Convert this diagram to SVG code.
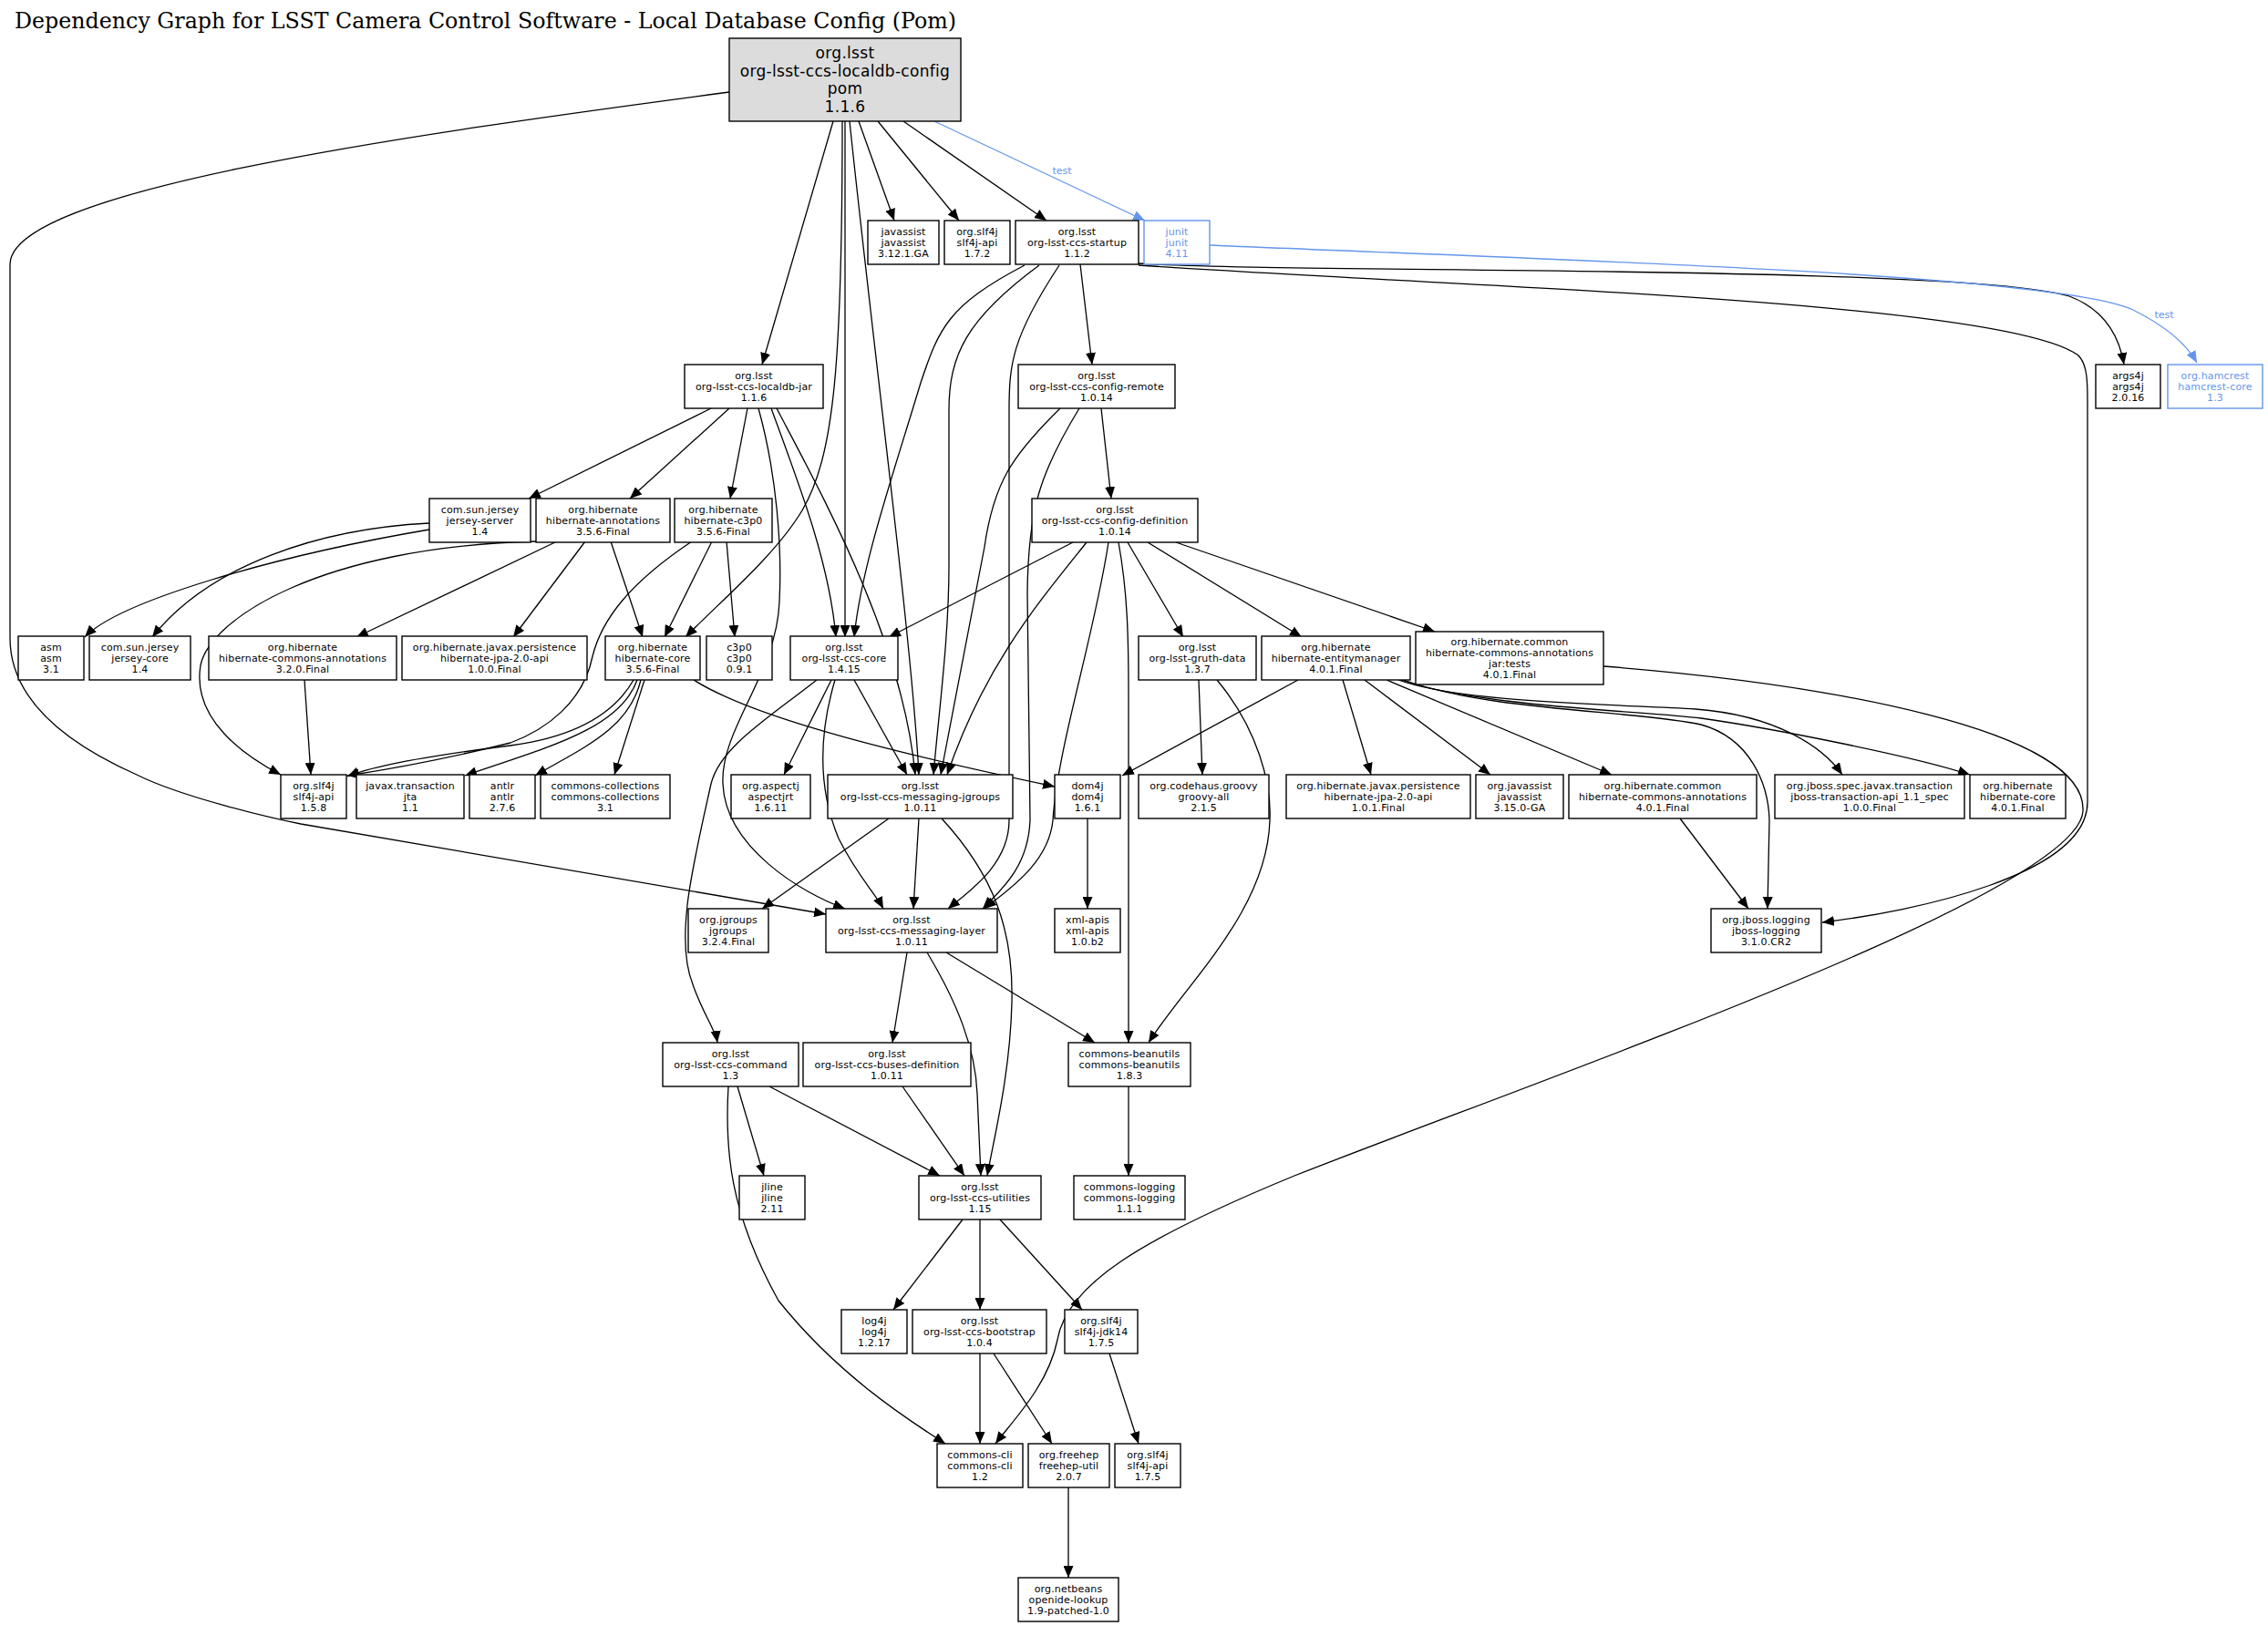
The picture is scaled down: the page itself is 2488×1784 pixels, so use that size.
<svg xmlns="http://www.w3.org/2000/svg" width="2488" height="1784" viewBox="0 0 2488 1784">
<style>
.n rect{fill:#fff;stroke:#000;stroke-width:1.4}
.n text{font-family:"DejaVu Sans",sans-serif;font-size:11px;letter-spacing:0.15px;text-anchor:middle;fill:#000}
.r rect{fill:#dcdcdc}
.r text{font-size:17px;letter-spacing:0.3px}
.b rect{stroke:#6495ed}
.b text{fill:#6495ed}
.e path{fill:none;stroke:#000;stroke-width:1.3;marker-end:url(#ah)}
.e path.t{stroke:#6495ed;marker-end:url(#ab)}
.lbl{font-family:"DejaVu Sans",sans-serif;font-size:11px;fill:#6495ed;text-anchor:middle}
.title{font-family:"DejaVu Serif","Liberation Serif",serif;font-size:25px;fill:#000}
</style>
<defs>
<marker id="ah" viewBox="0 0 13 11" refX="13" refY="5.5" markerWidth="13" markerHeight="11" markerUnits="userSpaceOnUse" orient="auto"><path d="M0,0 L13,5.5 L0,11 z" fill="#000"/></marker>
<marker id="ab" viewBox="0 0 13 11" refX="13" refY="5.5" markerWidth="13" markerHeight="11" markerUnits="userSpaceOnUse" orient="auto"><path d="M0,0 L13,5.5 L0,11 z" fill="#6495ed"/></marker>
</defs>
<rect width="2488" height="1784" fill="#fff"/>
<text class="title" x="16" y="31" textLength="1033" lengthAdjust="spacingAndGlyphs">Dependency Graph for LSST Camera Control Software - Local Database Config (Pom)</text>

<g id="edges" class="e">
<path d="M800,101 C430,150 11,210 11,290 L11,700 C11,760 60,810 150,850 C200,875 300,898 330,904 L906,1003"/>
<path d="M914,133 L836,400"/>
<path d="M927,133 L927,699"/>
<path d="M924,133 C924,400 915,500 880,560 C850,610 790,660 752,699"/>
<path d="M932,133 C960,400 1000,700 1008,850"/>
<path d="M942,133 L981,242"/>
<path d="M963,133 L1052,242"/>
<path d="M991,133 L1148,242"/>
<path class="t" d="M1025,133 L1256,242"/>
<path d="M1185,290 L1198,400"/>
<path d="M1124,291 C1040,335 1030,360 1010,420 C980,520 945,620 937,699"/>
<path d="M1140,291 C1060,350 1041,390 1041,450 L1041,620 C1041,700 1030,780 1024,850"/>
<path d="M1162,291 C1110,370 1107,400 1107,450 L1107,900 C1107,950 1060,980 1040,997"/>
<path d="M1249,289 C1400,300 2150,290 2270,325 C2310,340 2325,370 2330,400"/>
<path d="M1249,291 C1600,315 2200,330 2280,390 C2290,400 2290,420 2290,440 L2290,880 C2290,960 2100,1000 1999,1012"/>
<path class="t" d="M1327,269 C1700,285 2250,300 2340,340 C2380,360 2400,380 2410,398"/>
<path d="M780,448 L580,547"/>
<path d="M800,448 L691,547"/>
<path d="M820,448 L801,547"/>
<path d="M846,448 C880,540 910,620 917,699"/>
<path d="M852,448 C900,540 990,700 1004,850"/>
<path d="M832,448 C852,520 858,600 855,660 C852,740 790,800 793,860 C796,930 880,980 927,997"/>
<path d="M1208,448 L1219,547"/>
<path d="M1163,448 C1110,500 1090,530 1080,600 C1060,700 1045,780 1032,850"/>
<path d="M1184,448 C1140,520 1128,560 1127,650 L1130,900 C1128,950 1100,975 1078,997"/>
<path d="M1177,595 L975,699"/>
<path d="M1192,595 C1140,660 1080,730 1039,850"/>
<path d="M1216,595 C1200,700 1160,820 1155,900 C1150,950 1100,980 1080,997"/>
<path d="M1227,595 C1237,650 1238,700 1238,760 L1238,1144"/>
<path d="M1237,595 L1298,699"/>
<path d="M1259,595 L1428,699"/>
<path d="M1290,595 L1574,693"/>
<path d="M1315,746 L1319,850"/>
<path d="M1335,746 C1380,800 1395,860 1393,900 C1390,1000 1300,1080 1260,1144"/>
<path d="M1424,746 L1231,851"/>
<path d="M1473,746 L1504,850"/>
<path d="M1497,746 L1635,850"/>
<path d="M1521,746 L1768,850"/>
<path d="M1534,746 C1600,770 1750,772 1860,778 C1950,785 2000,820 2021,850"/>
<path d="M1537,746 C1620,775 1800,780 1866,788 C1950,800 2100,830 2161,850"/>
<path d="M1540,746 C1630,780 1800,780 1866,795 C1920,810 1940,860 1941,900 L1939,997"/>
<path d="M1843,898 L1918,997"/>
<path d="M1759,731 C2000,750 2290,800 2285,890 C2280,980 1700,1180 1420,1290 C1250,1360 1170,1410 1160,1470 C1150,1520 1110,1560 1092,1584"/>
<path d="M588,594 C350,600 230,680 220,730 C210,790 270,830 308,850"/>
<path d="M611,594 L391,699"/>
<path d="M642,594 L563,699"/>
<path d="M670,594 L705,699"/>
<path d="M471,581 C300,610 130,660 93,699"/>
<path d="M471,574 C350,580 230,620 167,699"/>
<path d="M781,594 L729,699"/>
<path d="M797,594 L806,699"/>
<path d="M759,594 C690,640 660,680 650,720 C640,770 600,800 560,815 C480,835 420,845 381,851"/>
<path d="M695,746 C670,790 620,810 560,818 C480,828 410,840 381,852"/>
<path d="M699,746 C680,800 600,820 510,851"/>
<path d="M703,746 C690,800 640,820 587,851"/>
<path d="M707,746 L674,850"/>
<path d="M761,746 C830,790 1000,830 1157,863"/>
<path d="M912,746 L860,850"/>
<path d="M937,746 L995,850"/>
<path d="M916,746 C900,800 895,860 920,920 C940,960 960,980 969,997"/>
<path d="M896,746 C840,790 790,820 780,860 C760,950 740,1030 760,1080 C770,1110 785,1130 787,1144"/>
<path d="M975,898 L836,997"/>
<path d="M1008,898 L1002,997"/>
<path d="M1033,898 C1090,960 1112,1020 1110,1100 C1108,1180 1090,1250 1083,1290"/>
<path d="M995,1045 L979,1144"/>
<path d="M1017,1045 C1050,1100 1070,1150 1072,1200 C1074,1240 1075,1270 1076,1290"/>
<path d="M1038,1045 L1201,1144"/>
<path d="M809,1192 L838,1290"/>
<path d="M844,1192 L1031,1290"/>
<path d="M799,1192 C795,1260 800,1330 854,1427 C920,1510 1000,1560 1037,1584"/>
<path d="M990,1192 L1058,1290"/>
<path d="M1238,1192 L1238,1290"/>
<path d="M1056,1338 L980,1437"/>
<path d="M1075,1338 L1075,1437"/>
<path d="M1097,1338 L1187,1437"/>
<path d="M1075,1485 L1075,1584"/>
<path d="M1090,1485 L1154,1584"/>
<path d="M1217,1485 L1249,1584"/>
<path d="M1172,1632 L1172,1731"/>
<path d="M1193,898 L1193,997"/>
<path d="M334,746 L341,850"/>
</g>
<text class="lbl" x="1165" y="191">test</text>
<text class="lbl" x="2374" y="349">test</text>

<g id="root" class="n r"><rect x="800" y="42" width="254" height="91"/><text><tspan x="927" y="64">org.lsst</tspan><tspan x="927" y="84">org-lsst-ccs-localdb-config</tspan><tspan x="927" y="103">pom</tspan><tspan x="927" y="123">1.1.6</tspan></text></g>

<g id="javassist" class="n"><rect x="952" y="242" width="78" height="48"/><text><tspan x="991" y="258">javassist</tspan><tspan x="991" y="270">javassist</tspan><tspan x="991" y="282">3.12.1.GA</tspan></text></g>
<g id="slf4j-api-1.7.2" class="n"><rect x="1036" y="242" width="72" height="48"/><text><tspan x="1072" y="258">org.slf4j</tspan><tspan x="1072" y="270">slf4j-api</tspan><tspan x="1072" y="282">1.7.2</tspan></text></g>
<g id="startup" class="n"><rect x="1114" y="242" width="135" height="48"/><text><tspan x="1181.5" y="258">org.lsst</tspan><tspan x="1181.5" y="270">org-lsst-ccs-startup</tspan><tspan x="1181.5" y="282">1.1.2</tspan></text></g>
<g id="junit" class="n b"><rect x="1255" y="242" width="72" height="48"/><text><tspan x="1291" y="258">junit</tspan><tspan x="1291" y="270">junit</tspan><tspan x="1291" y="282">4.11</tspan></text></g>

<g id="localdb-jar" class="n"><rect x="751" y="400" width="152" height="48"/><text><tspan x="827" y="416">org.lsst</tspan><tspan x="827" y="428">org-lsst-ccs-localdb-jar</tspan><tspan x="827" y="440">1.1.6</tspan></text></g>
<g id="config-remote" class="n"><rect x="1117" y="400" width="172" height="48"/><text><tspan x="1203" y="416">org.lsst</tspan><tspan x="1203" y="428">org-lsst-ccs-config-remote</tspan><tspan x="1203" y="440">1.0.14</tspan></text></g>
<g id="args4j" class="n"><rect x="2299" y="400" width="71" height="48"/><text><tspan x="2334.5" y="416">args4j</tspan><tspan x="2334.5" y="428">args4j</tspan><tspan x="2334.5" y="440">2.0.16</tspan></text></g>
<g id="hamcrest" class="n b"><rect x="2378" y="400" width="104" height="48"/><text><tspan x="2430" y="416">org.hamcrest</tspan><tspan x="2430" y="428">hamcrest-core</tspan><tspan x="2430" y="440">1.3</tspan></text></g>

<g id="jersey-server" class="n"><rect x="471" y="547" width="111" height="48"/><text><tspan x="526.5" y="563">com.sun.jersey</tspan><tspan x="526.5" y="575">jersey-server</tspan><tspan x="526.5" y="587">1.4</tspan></text></g>
<g id="hibernate-annotations" class="n"><rect x="588" y="547" width="147" height="48"/><text><tspan x="661.5" y="563">org.hibernate</tspan><tspan x="661.5" y="575">hibernate-annotations</tspan><tspan x="661.5" y="587">3.5.6-Final</tspan></text></g>
<g id="hibernate-c3p0" class="n"><rect x="740" y="547" width="107" height="48"/><text><tspan x="793.5" y="563">org.hibernate</tspan><tspan x="793.5" y="575">hibernate-c3p0</tspan><tspan x="793.5" y="587">3.5.6-Final</tspan></text></g>
<g id="config-definition" class="n"><rect x="1132" y="547" width="182" height="48"/><text><tspan x="1223" y="563">org.lsst</tspan><tspan x="1223" y="575">org-lsst-ccs-config-definition</tspan><tspan x="1223" y="587">1.0.14</tspan></text></g>

<g id="asm" class="n"><rect x="20" y="698" width="72" height="48"/><text><tspan x="56" y="714">asm</tspan><tspan x="56" y="726">asm</tspan><tspan x="56" y="738">3.1</tspan></text></g>
<g id="jersey-core" class="n"><rect x="98" y="698" width="111" height="48"/><text><tspan x="153.5" y="714">com.sun.jersey</tspan><tspan x="153.5" y="726">jersey-core</tspan><tspan x="153.5" y="738">1.4</tspan></text></g>
<g id="hca-3.2.0" class="n"><rect x="229" y="698" width="206" height="48"/><text><tspan x="332" y="714">org.hibernate</tspan><tspan x="332" y="726">hibernate-commons-annotations</tspan><tspan x="332" y="738">3.2.0.Final</tspan></text></g>
<g id="jpa-1.0.0" class="n"><rect x="441" y="698" width="203" height="48"/><text><tspan x="542.5" y="714">org.hibernate.javax.persistence</tspan><tspan x="542.5" y="726">hibernate-jpa-2.0-api</tspan><tspan x="542.5" y="738">1.0.0.Final</tspan></text></g>
<g id="hibernate-core-3.5.6" class="n"><rect x="664" y="698" width="104" height="48"/><text><tspan x="716" y="714">org.hibernate</tspan><tspan x="716" y="726">hibernate-core</tspan><tspan x="716" y="738">3.5.6-Final</tspan></text></g>
<g id="c3p0" class="n"><rect x="775" y="698" width="72" height="48"/><text><tspan x="811" y="714">c3p0</tspan><tspan x="811" y="726">c3p0</tspan><tspan x="811" y="738">0.9.1</tspan></text></g>
<g id="ccs-core" class="n"><rect x="867" y="698" width="118" height="48"/><text><tspan x="926" y="714">org.lsst</tspan><tspan x="926" y="726">org-lsst-ccs-core</tspan><tspan x="926" y="738">1.4.15</tspan></text></g>
<g id="gruth-data" class="n"><rect x="1249" y="698" width="129" height="48"/><text><tspan x="1313.5" y="714">org.lsst</tspan><tspan x="1313.5" y="726">org-lsst-gruth-data</tspan><tspan x="1313.5" y="738">1.3.7</tspan></text></g>
<g id="entitymanager" class="n"><rect x="1384" y="698" width="163" height="48"/><text><tspan x="1465.5" y="714">org.hibernate</tspan><tspan x="1465.5" y="726">hibernate-entitymanager</tspan><tspan x="1465.5" y="738">4.0.1.Final</tspan></text></g>
<g id="hca-jar-tests" class="n"><rect x="1553" y="693" width="206" height="58"/><text><tspan x="1656" y="708">org.hibernate.common</tspan><tspan x="1656" y="720">hibernate-commons-annotations</tspan><tspan x="1656" y="732">jar:tests</tspan><tspan x="1656" y="744">4.0.1.Final</tspan></text></g>

<g id="slf4j-api-1.5.8" class="n"><rect x="308" y="850" width="72" height="48"/><text><tspan x="344" y="866">org.slf4j</tspan><tspan x="344" y="878">slf4j-api</tspan><tspan x="344" y="890">1.5.8</tspan></text></g>
<g id="jta" class="n"><rect x="391" y="850" width="118" height="48"/><text><tspan x="450" y="866">javax.transaction</tspan><tspan x="450" y="878">jta</tspan><tspan x="450" y="890">1.1</tspan></text></g>
<g id="antlr" class="n"><rect x="515" y="850" width="72" height="48"/><text><tspan x="551" y="866">antlr</tspan><tspan x="551" y="878">antlr</tspan><tspan x="551" y="890">2.7.6</tspan></text></g>
<g id="commons-collections" class="n"><rect x="593" y="850" width="142" height="48"/><text><tspan x="664" y="866">commons-collections</tspan><tspan x="664" y="878">commons-collections</tspan><tspan x="664" y="890">3.1</tspan></text></g>
<g id="aspectjrt" class="n"><rect x="802" y="850" width="87" height="48"/><text><tspan x="845.5" y="866">org.aspectj</tspan><tspan x="845.5" y="878">aspectjrt</tspan><tspan x="845.5" y="890">1.6.11</tspan></text></g>
<g id="messaging-jgroups" class="n"><rect x="908" y="850" width="203" height="48"/><text><tspan x="1009.5" y="866">org.lsst</tspan><tspan x="1009.5" y="878">org-lsst-ccs-messaging-jgroups</tspan><tspan x="1009.5" y="890">1.0.11</tspan></text></g>
<g id="dom4j" class="n"><rect x="1157" y="850" width="72" height="48"/><text><tspan x="1193" y="866">dom4j</tspan><tspan x="1193" y="878">dom4j</tspan><tspan x="1193" y="890">1.6.1</tspan></text></g>
<g id="groovy-all" class="n"><rect x="1249" y="850" width="143" height="48"/><text><tspan x="1320.5" y="866">org.codehaus.groovy</tspan><tspan x="1320.5" y="878">groovy-all</tspan><tspan x="1320.5" y="890">2.1.5</tspan></text></g>
<g id="jpa-1.0.1" class="n"><rect x="1411" y="850" width="202" height="48"/><text><tspan x="1512" y="866">org.hibernate.javax.persistence</tspan><tspan x="1512" y="878">hibernate-jpa-2.0-api</tspan><tspan x="1512" y="890">1.0.1.Final</tspan></text></g>
<g id="org-javassist" class="n"><rect x="1619" y="850" width="96" height="48"/><text><tspan x="1667" y="866">org.javassist</tspan><tspan x="1667" y="878">javassist</tspan><tspan x="1667" y="890">3.15.0-GA</tspan></text></g>
<g id="hca-4.0.1" class="n"><rect x="1721" y="850" width="206" height="48"/><text><tspan x="1824" y="866">org.hibernate.common</tspan><tspan x="1824" y="878">hibernate-commons-annotations</tspan><tspan x="1824" y="890">4.0.1.Final</tspan></text></g>
<g id="jboss-transaction" class="n"><rect x="1947" y="850" width="208" height="48"/><text><tspan x="2051" y="866">org.jboss.spec.javax.transaction</tspan><tspan x="2051" y="878">jboss-transaction-api_1.1_spec</tspan><tspan x="2051" y="890">1.0.0.Final</tspan></text></g>
<g id="hibernate-core-4.0.1" class="n"><rect x="2161" y="850" width="105" height="48"/><text><tspan x="2213.5" y="866">org.hibernate</tspan><tspan x="2213.5" y="878">hibernate-core</tspan><tspan x="2213.5" y="890">4.0.1.Final</tspan></text></g>

<g id="jgroups" class="n"><rect x="755" y="997" width="88" height="48"/><text><tspan x="799" y="1013">org.jgroups</tspan><tspan x="799" y="1025">jgroups</tspan><tspan x="799" y="1037">3.2.4.Final</tspan></text></g>
<g id="messaging-layer" class="n"><rect x="906" y="997" width="188" height="48"/><text><tspan x="1000" y="1013">org.lsst</tspan><tspan x="1000" y="1025">org-lsst-ccs-messaging-layer</tspan><tspan x="1000" y="1037">1.0.11</tspan></text></g>
<g id="xml-apis" class="n"><rect x="1157" y="997" width="72" height="48"/><text><tspan x="1193" y="1013">xml-apis</tspan><tspan x="1193" y="1025">xml-apis</tspan><tspan x="1193" y="1037">1.0.b2</tspan></text></g>
<g id="jboss-logging" class="n"><rect x="1877" y="997" width="121" height="48"/><text><tspan x="1937.5" y="1013">org.jboss.logging</tspan><tspan x="1937.5" y="1025">jboss-logging</tspan><tspan x="1937.5" y="1037">3.1.0.CR2</tspan></text></g>

<g id="ccs-command" class="n"><rect x="727" y="1144" width="149" height="48"/><text><tspan x="801.5" y="1160">org.lsst</tspan><tspan x="801.5" y="1172">org-lsst-ccs-command</tspan><tspan x="801.5" y="1184">1.3</tspan></text></g>
<g id="buses-definition" class="n"><rect x="881" y="1144" width="184" height="48"/><text><tspan x="973" y="1160">org.lsst</tspan><tspan x="973" y="1172">org-lsst-ccs-buses-definition</tspan><tspan x="973" y="1184">1.0.11</tspan></text></g>
<g id="commons-beanutils" class="n"><rect x="1172" y="1144" width="134" height="48"/><text><tspan x="1239" y="1160">commons-beanutils</tspan><tspan x="1239" y="1172">commons-beanutils</tspan><tspan x="1239" y="1184">1.8.3</tspan></text></g>

<g id="jline" class="n"><rect x="811" y="1290" width="72" height="48"/><text><tspan x="847" y="1306">jline</tspan><tspan x="847" y="1318">jline</tspan><tspan x="847" y="1330">2.11</tspan></text></g>
<g id="utilities" class="n"><rect x="1008" y="1290" width="134" height="48"/><text><tspan x="1075" y="1306">org.lsst</tspan><tspan x="1075" y="1318">org-lsst-ccs-utilities</tspan><tspan x="1075" y="1330">1.15</tspan></text></g>
<g id="commons-logging" class="n"><rect x="1178" y="1290" width="122" height="48"/><text><tspan x="1239" y="1306">commons-logging</tspan><tspan x="1239" y="1318">commons-logging</tspan><tspan x="1239" y="1330">1.1.1</tspan></text></g>

<g id="log4j" class="n"><rect x="923" y="1437" width="72" height="48"/><text><tspan x="959" y="1453">log4j</tspan><tspan x="959" y="1465">log4j</tspan><tspan x="959" y="1477">1.2.17</tspan></text></g>
<g id="bootstrap" class="n"><rect x="1001" y="1437" width="147" height="48"/><text><tspan x="1074.5" y="1453">org.lsst</tspan><tspan x="1074.5" y="1465">org-lsst-ccs-bootstrap</tspan><tspan x="1074.5" y="1477">1.0.4</tspan></text></g>
<g id="slf4j-jdk14" class="n"><rect x="1168" y="1437" width="80" height="48"/><text><tspan x="1208" y="1453">org.slf4j</tspan><tspan x="1208" y="1465">slf4j-jdk14</tspan><tspan x="1208" y="1477">1.7.5</tspan></text></g>

<g id="commons-cli" class="n"><rect x="1028" y="1584" width="94" height="48"/><text><tspan x="1075" y="1600">commons-cli</tspan><tspan x="1075" y="1612">commons-cli</tspan><tspan x="1075" y="1624">1.2</tspan></text></g>
<g id="freehep-util" class="n"><rect x="1128" y="1584" width="89" height="48"/><text><tspan x="1172.5" y="1600">org.freehep</tspan><tspan x="1172.5" y="1612">freehep-util</tspan><tspan x="1172.5" y="1624">2.0.7</tspan></text></g>
<g id="slf4j-api-1.7.5" class="n"><rect x="1223" y="1584" width="72" height="48"/><text><tspan x="1259" y="1600">org.slf4j</tspan><tspan x="1259" y="1612">slf4j-api</tspan><tspan x="1259" y="1624">1.7.5</tspan></text></g>

<g id="openide-lookup" class="n"><rect x="1117" y="1731" width="110" height="48"/><text><tspan x="1172" y="1747">org.netbeans</tspan><tspan x="1172" y="1759">openide-lookup</tspan><tspan x="1172" y="1771">1.9-patched-1.0</tspan></text></g>
</svg>
